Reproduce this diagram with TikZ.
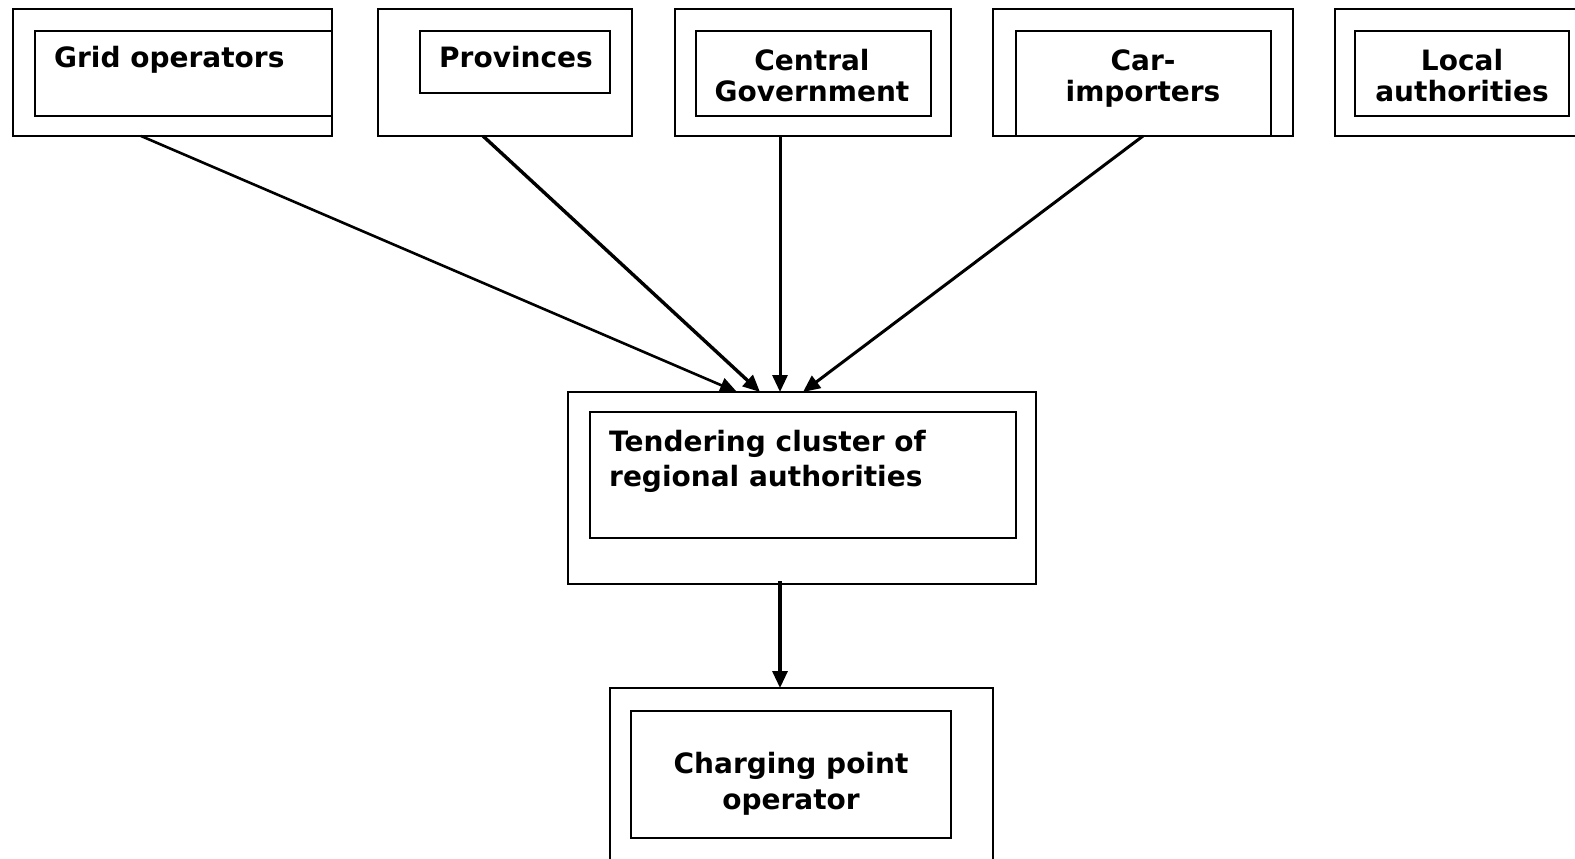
\documentclass[tikz,border=0pt]{standalone}
\usepackage{fontspec}
\setmainfont{DejaVu Sans}
\usetikzlibrary{arrows.meta}
\begin{document}
\begin{tikzpicture}[x=1pt,y=-1pt,
  box/.style={draw=black, line width=2pt, inner sep=0pt, outer sep=0pt, fill=none},
  lbl/.style={inner sep=0pt, font=\bfseries\fontsize{28}{32}\selectfont, align=center},
  lblwide/.style={inner sep=0pt, font=\bfseries\fontsize{28}{35}\selectfont, align=left},
  lblmid/.style={inner sep=0pt, font=\bfseries\fontsize{28}{36}\selectfont, align=center},
  conn/.style={line width=3.4pt, -{Triangle[length=17pt,width=15pt]}},
  connthin/.style={line width=2.6pt, -{Triangle[length=17pt,width=15pt]}}
]
\useasboundingbox (0,0) rectangle (1575,859);
\fill[white] (0,0) rectangle (1575,859);

% top row
\node[box, minimum width=319pt, minimum height=127pt] (grid) at (172.5,72.5) {};
\node[box, minimum width=297pt, minimum height=85pt] (gridin) at (183.5,73.5) {};
\node[lbl, anchor=base west] (gridt) at (54,67) {Grid operators};

\node[box, minimum width=254pt, minimum height=127pt] (prov) at (505,72.5) {};
\node[box, minimum width=190pt, minimum height=62pt] (provin) at (515,62) {};
\node[lbl, anchor=base] (provt) at (516,67) {Provinces};

\node[box, minimum width=276pt, minimum height=127pt] (cent) at (813,72.5) {};
\node[box, minimum width=235pt, minimum height=85pt] (centin) at (813.5,73.5) {};
\node[lbl, anchor=base] (centt) at (812,102) {Central\\Government};

\node[box, minimum width=300pt, minimum height=127pt] (car) at (1143,72.5) {};
\node[box, minimum width=255pt, minimum height=105pt] (carin) at (1143.5,83.5) {};
\node[lbl, anchor=base] (cart) at (1143,102) {Car-\\importers};

\node[box, minimum width=255pt, minimum height=127pt] (local) at (1462.5,72.5) {};
\node[box, minimum width=214pt, minimum height=85pt] (localin) at (1462,73.5) {};
\node[lbl, anchor=base] (localt) at (1462,102) {Local\\authorities};

% middle
\node[box, minimum width=468pt, minimum height=192pt] (tender) at (802,488) {};
\node[box, minimum width=426pt, minimum height=126pt] (tenderin) at (803,475) {};
\node[lblwide, anchor=base west] (tendert) at (609,486) {Tendering cluster of\\regional authorities};

% bottom
\node[box, minimum width=383pt, minimum height=192pt] (charge) at (801.5,784) {};
\node[box, minimum width=320pt, minimum height=127pt] (chargein) at (791,774.5) {};
\node[lblmid, anchor=base] (charget) at (791,809) {Charging point\\operator};

% connectors
\draw[connthin] ([xshift=-31.5pt]grid.south) -- ([xshift=-65pt]tender.north);
\draw[conn] ([xshift=-22pt]prov.south) -- ([xshift=-42pt]tender.north);
\draw[conn, line width=3pt] ([xshift=-33pt]cent.south) -- ([xshift=-22pt]tender.north);
\draw[conn, line width=3pt] (car.south) -- ([xshift=1pt]tender.north);
\draw[conn, line width=3.2pt] ([xshift=-22pt,yshift=3pt]tender.south) -- ([xshift=-21.5pt]charge.north);
\end{tikzpicture}
\end{document}
